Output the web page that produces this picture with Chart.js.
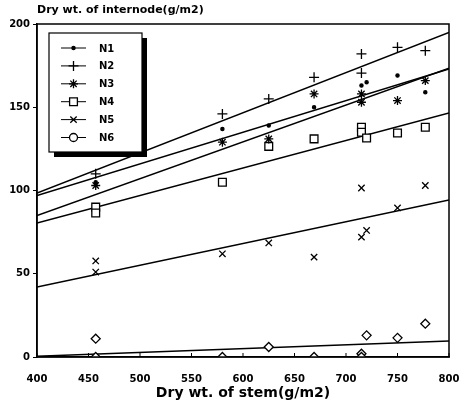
<!DOCTYPE html>
<html>
<head>
<meta charset="utf-8">
<script src="https://cdn.jsdelivr.net/npm/chart.js@4.4.0/dist/chart.umd.min.js"></script>
<style>
  html, body { margin: 0; padding: 0; background: #fff; }
</style>
</head>
<body>
<canvas id="chart" width="462" height="403"></canvas>
<script>
// values (stem dry wt vs internode dry wt, g/m2)
const seriesNames = ['N1', 'N2', 'N3', 'N4', 'N5', 'N6'];

const n1Stem = [457, 580, 625, 669, 715, 720, 750, 777];
const n1Internode = [105, 137, 139, 150, 163, 165, 169, 159];

const n2Stem = [457, 580, 625, 669, 715, 715, 750, 777];
const n2Internode = [110, 146, 155, 168, 182, 170.5, 186, 184];

const n3Stem = [457, 580, 625, 669, 715, 715, 750, 777];
const n3Internode = [103, 129, 131, 158, 153, 158, 154, 166];

const n4Stem = [457, 457, 580, 625, 669, 715, 715, 720, 750, 777];
const n4Internode = [90, 86.5, 105, 126.5, 131, 138, 135, 131.5, 134.5, 138];

const n5Stem = [457, 457, 580, 625, 669, 715, 715, 720, 750, 777];
const n5Internode = [57.7, 51, 62, 68.5, 60, 101.5, 72, 76, 89.5, 103];

const n6Stem = [457, 457, 580, 625, 669, 715, 715, 720, 750, 777];
const n6Internode = [11, 0, 0, 6, 0, 2, 0, 13, 11.5, 20];

// fitted lines, read at both ends of the x axis
const fitStem = [400, 800];
const n1Fit = [97, 173];
const n2Fit = [98.5, 195];
const n3Fit = [85, 173.5];
const n4Fit = [80.5, 146.5];
const n5Fit = [42, 94.3];
const n6Fit = [0.5, 9.6];

const xTicks = [400, 450, 500, 550, 600, 650, 700, 750, 800];
const yTicks = [0, 50, 100, 150, 200];

const FONT = '"DejaVu Sans", sans-serif';

function toPoints(xs, ys) {
    return xs.map((x, i) => ({ x: x, y: ys[i] }));
}

const markers = [
    { pointStyle: 'circle', radius: 1.6, fill: '#000' },
    { pointStyle: 'cross', radius: 5, fill: '#000' },
    { pointStyle: 'star', radius: 4.5, fill: '#000' },
    { pointStyle: 'rect', radius: 5.5, fill: '#fff' },
    { pointStyle: 'crossRot', radius: 4.5, fill: '#000' },
    { pointStyle: 'rectRot', radius: 4.5, fill: '#fff' }
];
const legendMarkers = markers.map((m, i) => i === 5 ? { pointStyle: 'circle', radius: 4, fill: '#fff' } : m);

const pointSets = [
    toPoints(n1Stem, n1Internode),
    toPoints(n2Stem, n2Internode),
    toPoints(n3Stem, n3Internode),
    toPoints(n4Stem, n4Internode),
    toPoints(n5Stem, n5Internode),
    toPoints(n6Stem, n6Internode)
];
const fitSets = [n1Fit, n2Fit, n3Fit, n4Fit, n5Fit, n6Fit].map(f => toPoints(fitStem, f));

const datasets = [];
seriesNames.forEach((name, i) => {
    datasets.push({
        label: name,
        data: pointSets[i],
        showLine: false,
        pointStyle: markers[i].pointStyle,
        pointRadius: markers[i].radius,
        pointBorderWidth: 1.3,
        pointBorderColor: '#000',
        pointBackgroundColor: markers[i].fill
    });
    datasets.push({
        label: name + ' fit',
        data: fitSets[i],
        showLine: true,
        borderColor: '#000',
        borderWidth: 1.5,
        pointRadius: 0
    });
});

// frame, inward x ticks, top title
const framePlugin = {
    id: 'frame',
    afterDraw(chart) {
        const { ctx, chartArea: a, scales } = chart;
        ctx.save();
        ctx.strokeStyle = '#000';
        ctx.lineWidth = 1.5;
        ctx.strokeRect(a.left, a.top, a.right - a.left, a.bottom - a.top);
        ctx.lineWidth = 1;
        xTicks.forEach(v => {
            const px = scales.x.getPixelForValue(v);
            ctx.beginPath();
            ctx.moveTo(px, a.bottom);
            ctx.lineTo(px, a.bottom - 4);
            ctx.stroke();
        });
        ctx.fillStyle = '#000';
        ctx.font = 'bold 11px ' + FONT;
        ctx.textBaseline = 'middle';
        ctx.textAlign = 'left';
        ctx.fillText('Dry wt. of internode(g/m2)', a.left, 10);
        ctx.restore();
    }
};

// boxed legend with drop shadow
const legendPlugin = {
    id: 'boxLegend',
    afterDraw(chart) {
        const ctx = chart.ctx;
        const bx = 49, by = 33, bw = 93, bh = 119;
        ctx.save();
        ctx.fillStyle = '#000';
        ctx.fillRect(bx + 5, by + 5, bw, bh);
        ctx.fillStyle = '#fff';
        ctx.fillRect(bx, by, bw, bh);
        ctx.strokeStyle = '#000';
        ctx.lineWidth = 1.2;
        ctx.strokeRect(bx, by, bw, bh);
        ctx.font = 'bold 10px ' + FONT;
        ctx.textBaseline = 'middle';
        ctx.textAlign = 'left';
        seriesNames.forEach((name, i) => {
            const y = 48 + i * 17.9;
            ctx.strokeStyle = '#000';
            ctx.lineWidth = 1;
            ctx.beginPath();
            ctx.moveTo(61, y);
            ctx.lineTo(86, y);
            ctx.stroke();
            const m = legendMarkers[i];
            ctx.fillStyle = m.fill;
            ctx.lineWidth = 1.3;
            Chart.helpers.drawPoint(ctx, { pointStyle: m.pointStyle, radius: m.radius, rotation: 0, borderWidth: 1.3 }, 73.5, y);
            ctx.fillStyle = '#000';
            ctx.fillText(name, 99, y + 1);
        });
        ctx.restore();
    }
};

new Chart(document.getElementById('chart'), {
    type: 'scatter',
    data: { datasets: datasets },
    options: {
        responsive: false,
        animation: false,
        devicePixelRatio: 1,
        layout: { padding: { top: 24, right: 13, left: 0, bottom: 0 } },
        plugins: {
            legend: { display: false },
            tooltip: { enabled: false }
        },
        scales: {
            x: {
                type: 'linear',
                min: 400,
                max: 800,
                afterBuildTicks: s => { s.ticks = xTicks.map(v => ({ value: v })); },
                afterFit: s => { s.height = 46; s.paddingLeft = 0; s.paddingRight = 0; },
                grid: { display: false },
                border: { color: '#000', width: 1.5 },
                ticks: { color: '#000', font: { family: FONT, size: 10, weight: 'bold' }, padding: 8 },
                title: {
                    display: true,
                    text: 'Dry wt. of stem(g/m2)',
                    color: '#000',
                    font: { family: FONT, size: 14, weight: 'bold' },
                    padding: { top: 2, bottom: 1 }
                }
            },
            y: {
                min: 0,
                max: 200,
                afterBuildTicks: s => { s.ticks = yTicks.map(v => ({ value: v })); },
                afterFit: s => { s.width = 37; s.paddingTop = 0; s.paddingBottom = 0; },
                grid: { drawOnChartArea: false, color: '#000', tickLength: 4 },
                border: { color: '#000', width: 1.5 },
                ticks: { color: '#000', font: { family: FONT, size: 10, weight: 'bold' }, padding: 3 }
            }
        }
    },
    plugins: [framePlugin, legendPlugin]
});
</script>
</body>
</html>
